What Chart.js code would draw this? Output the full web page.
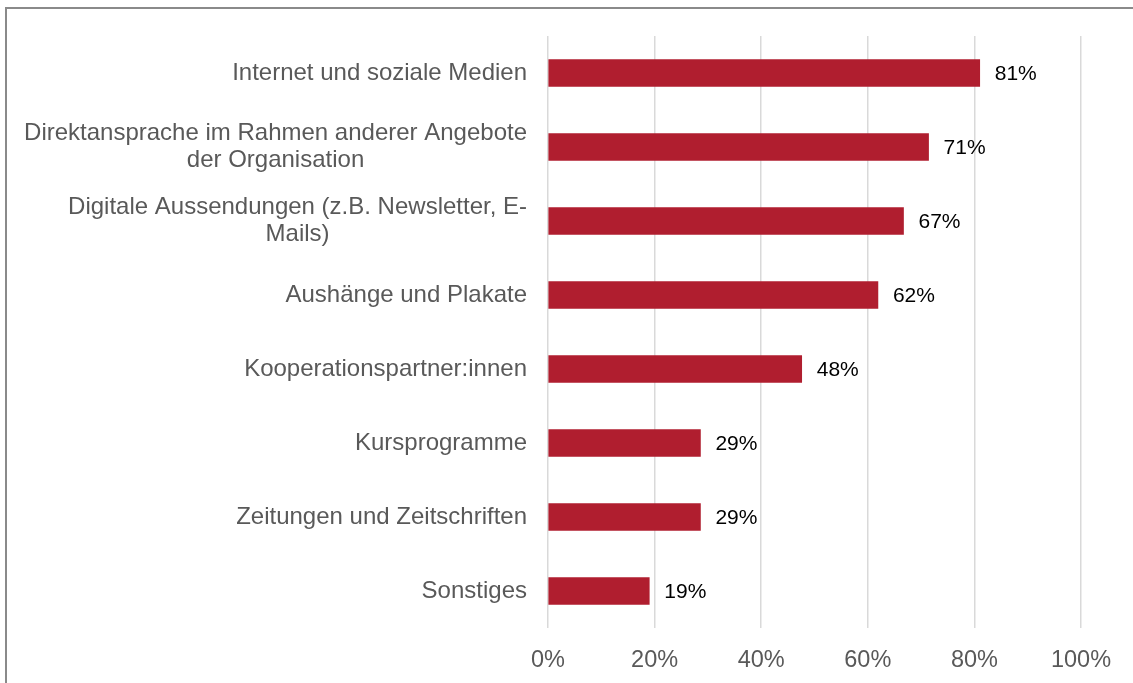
<!DOCTYPE html>
<html>
<head>
<meta charset="utf-8">
<script src="https://cdn.jsdelivr.net/npm/chart.js@4/dist/chart.umd.min.js"></script>
<style>
  html, body { margin: 0; padding: 0; background: #fff; overflow: hidden; }
  .frame {
    position: absolute; left: 5px; top: 7px;
    width: 2000px; height: 2000px;
    border: 2px solid #8a8a8a;
  }
  .chart-container { position: absolute; left: 0; top: 0; width: 1133px; height: 683px; }
</style>
</head>
<body>
<div class="frame"></div>
<div class="chart-container">
  <canvas id="chart" width="1133" height="683"></canvas>
</div>
<script>
const categories = [
  'Internet und soziale Medien',
  ['Direktansprache im Rahmen anderer Angebote', 'der Organisation'],
  ['Digitale Aussendungen (z.B. Newsletter, E-', 'Mails)'],
  'Aushänge und Plakate',
  'Kooperationspartner:innen',
  'Kursprogramme',
  'Zeitungen und Zeitschriften',
  'Sonstiges'
];
const shares = [81.0, 71.4, 66.7, 61.9, 47.6, 28.6, 28.6, 19.0];
const xTicks = [0, 20, 40, 60, 80, 100];

const fontFamily = '"Liberation Sans", Arial, sans-serif';
const labelColor = '#595959';
const barColor = '#B01E2F';

// Category labels: right-aligned block, lines centered inside it (like Excel)
const categoryLabels = {
  id: 'categoryLabels',
  afterDraw(chart) {
    const ctx = chart.ctx;
    const yScale = chart.scales.y;
    const right = 527;
    const lineHeight = 26.5;
    ctx.save();
    ctx.font = '24px ' + fontFamily;
    ctx.fillStyle = labelColor;
    ctx.textAlign = 'center';
    ctx.textBaseline = 'middle';
    categories.forEach((label, i) => {
      const lines = Array.isArray(label) ? label : [label];
      const maxW = Math.max(...lines.map(l => ctx.measureText(l).width));
      const cx = right - maxW / 2;
      const y = yScale.getPixelForValue(i);
      lines.forEach((line, j) => {
        ctx.fillText(line, cx, y + (j - (lines.length - 1) / 2) * lineHeight);
      });
    });
    ctx.restore();
  }
};

// Value labels right of each bar
const valueLabels = {
  id: 'valueLabels',
  afterDatasetsDraw(chart) {
    const ctx = chart.ctx;
    const meta = chart.getDatasetMeta(0);
    ctx.save();
    ctx.font = '21px ' + fontFamily;
    ctx.fillStyle = '#000000';
    ctx.textAlign = 'left';
    ctx.textBaseline = 'middle';
    meta.data.forEach((bar, i) => {
      ctx.fillText(Math.round(shares[i]) + '%', bar.x + 15, bar.y + 1);
    });
    ctx.restore();
  }
};

const ctx = document.getElementById('chart').getContext('2d');
new Chart(ctx, {
  type: 'bar',
  data: {
    labels: categories,
    datasets: [{
      data: shares,
      backgroundColor: barColor,
      borderWidth: 0,
      barThickness: 27
    }]
  },
  options: {
    indexAxis: 'y',
    responsive: false,
    animation: false,
    layout: { padding: { left: 0, right: 52, top: 36, bottom: 0 } },
    plugins: {
      legend: { display: false },
      tooltip: { enabled: false }
    },
    scales: {
      x: {
        min: 0,
        max: 100,
        afterBuildTicks(scale) {
          scale.ticks = xTicks.map(v => ({ value: v }));
        },
        afterFit(scale) { scale.height = 55; },
        grid: { color: '#d9d9d9', lineWidth: 1.5, drawTicks: false },
        border: { display: false },
        ticks: {
          color: labelColor,
          font: { family: fontFamily, size: 23.5 },
          padding: 18,
          callback: v => v + '%'
        }
      },
      y: {
        afterFit(scale) { scale.width = 548; },
        grid: { display: false },
        border: { display: false },
        ticks: { display: false }
      }
    }
  },
  plugins: [categoryLabels, valueLabels]
});
</script>
</body>
</html>
